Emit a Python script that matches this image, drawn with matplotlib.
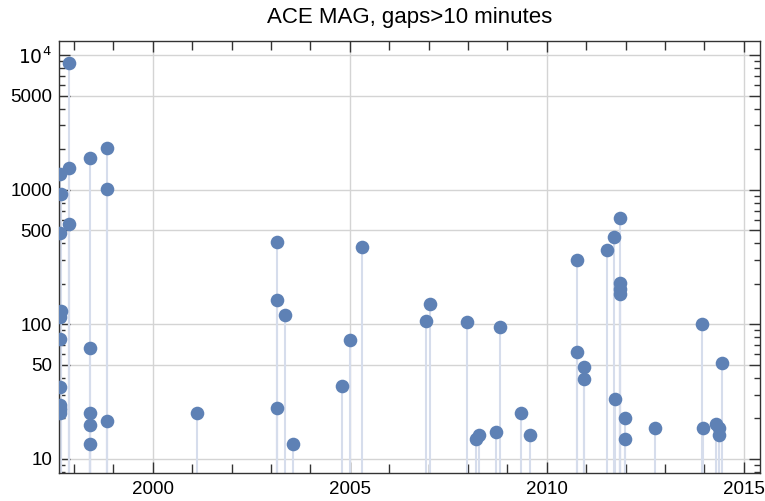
import numpy as np
import matplotlib
matplotlib.use("Agg")
import matplotlib.pyplot as plt
from matplotlib.ticker import FixedLocator, FixedFormatter, NullFormatter

plt.rcParams['font.family'] = ['Liberation Sans', 'DejaVu Sans']

# gap dates (decimal years) and gap lengths (minutes)
gap_year = [1997.65, 1997.66, 1997.65, 1997.66, 1997.65, 1997.65, 1997.65, 1997.64,
            1997.65, 1997.64, 1997.65, 1997.88, 1997.88, 1997.88,
            1998.40, 1998.40, 1998.40, 1998.40, 1998.40,
            1998.83, 1998.83, 1998.83,
            2001.12, 2003.16, 2003.16, 2003.16, 2003.35, 2003.56,
            2004.79, 2005.01, 2005.30,
            2006.94, 2007.04, 2007.97, 2008.20, 2008.27, 2008.71, 2008.80,
            2009.35, 2009.57,
            2010.77, 2010.77, 2010.94, 2010.94,
            2011.52, 2011.70, 2011.73, 2011.86, 2011.86, 2011.86, 2011.86,
            2011.99, 2011.99, 2012.74,
            2013.93, 2013.96, 2014.30, 2014.36, 2014.36, 2014.44]
gap_minutes = [1310, 935, 480, 125, 113, 78, 34, 25, 24, 23, 22, 8700, 1450, 560,
               1730, 67, 22, 18, 13,
               2040, 1016, 19,
               22, 410, 151, 24, 117, 13,
               35, 76, 374,
               106, 141, 104, 14.0, 15.1, 16.0, 95,
               22, 15,
               299, 62, 48, 39,
               359, 443, 28, 621, 202, 184, 167,
               20, 14, 17,
               100, 17, 18.2, 17, 15, 52]

year_major = [2000, 2005, 2010, 2015]
year_minor = list(range(1998, 2016))
y_major = [10, 50, 100, 500, 1000, 5000, 10000]
y_labels = ['10', '50', '100', '500', '1000', '5000', r'$10^4$']

point_color = '#5E81B5'
stem_color = '#D6DDEC'

fig = plt.figure(figsize=(7.65, 5.01), dpi=100)
ax = fig.add_axes([59 / 765, 28 / 501, 701 / 765, 432 / 501])

ax.set_yscale('log')
ax.set_xlim(1997.62, 2015.41)
ax.set_ylim(7.87, 12700)

ax.vlines(gap_year, 1, gap_minutes, color=stem_color, lw=1.5, zorder=2)
ax.plot(gap_year, gap_minutes, 'o', color=point_color, ms=9.8,
        markeredgewidth=0, zorder=3)

# grid
for v in y_major:
    ax.axhline(v, color='#D4D4D4', lw=1.0, zorder=1)
for v in year_major:
    ax.axvline(v, color='#D4D4D4', lw=1.0, zorder=1)

ax.xaxis.set_major_locator(FixedLocator(year_major))
ax.xaxis.set_major_formatter(FixedFormatter([str(v) for v in year_major]))
ax.xaxis.set_minor_locator(FixedLocator(year_minor))
ax.xaxis.set_minor_formatter(NullFormatter())

minor_y = [m * 10 ** e for e in range(0, 5) for m in range(2, 10)]
minor_y = [v for v in minor_y if v not in y_major]
ax.yaxis.set_major_locator(FixedLocator(y_major))
ax.yaxis.set_major_formatter(FixedFormatter(y_labels))
ax.yaxis.set_minor_locator(FixedLocator(minor_y))
ax.yaxis.set_minor_formatter(NullFormatter())

ax.tick_params(which='both', direction='in', top=True, right=True,
               labelsize=13.5, color='#333333', width=1.0)
ax.tick_params(which='major', length=8)
ax.tick_params(which='minor', length=4.5)
ax.tick_params(axis='x', which='minor', length=6.5)
ax.tick_params(axis='x', pad=6)
ax.tick_params(axis='y', pad=5)
for s in ax.spines.values():
    s.set_color('#333333')
    s.set_linewidth(1.0)

fig.text((59 + 760) / 2 / 765, 1 - 18 / 501, 'ACE MAG, gaps>10 minutes',
         fontsize=16, ha='center', va='center')

fig.savefig('out.png', dpi=100)
